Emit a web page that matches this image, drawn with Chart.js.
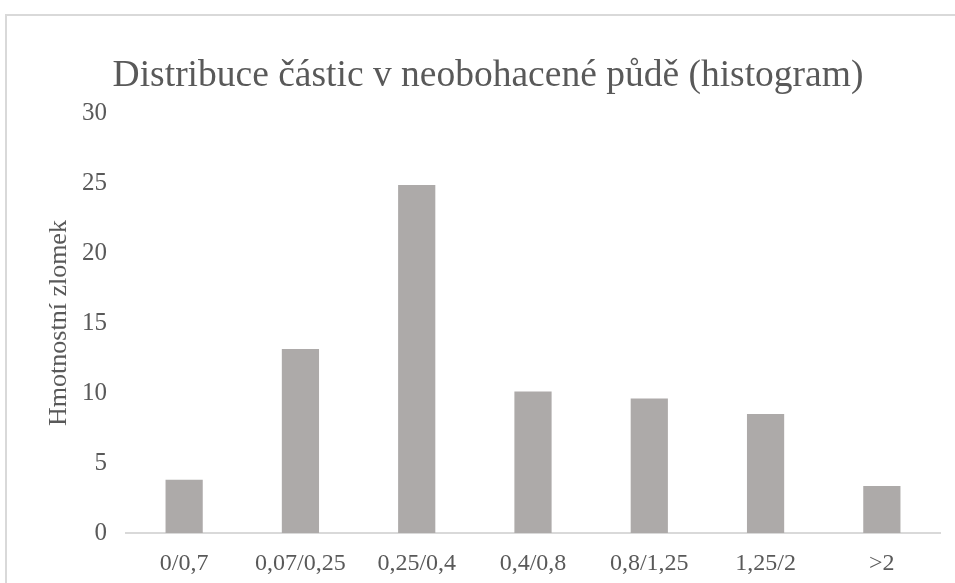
<!DOCTYPE html>
<html>
<head>
  <meta charset="utf-8">
  <title>Distribuce částic</title>
  <script src="https://cdn.jsdelivr.net/npm/chart.js@4.4.1/dist/chart.umd.min.js"></script>
  <style>
    html, body { margin: 0; padding: 0; background: #fff; }
    #frame {
      position: absolute; left: 5px; top: 14px; width: 960px; height: 600px;
      border-top: 2px solid #d9d9d9; border-left: 2px solid #d9d9d9;
    }
    #wrap { position: absolute; left: 0; top: 0; width: 955px; height: 583px; }
  </style>
</head>
<body>
<div id="frame"></div>
<div id="wrap"><canvas id="chart"></canvas></div>

<script>
// Data
const categories = ['0/0,7', '0,07/0,25', '0,25/0,4', '0,4/0,8', '0,8/1,25', '1,25/2', '>2'];
const massFraction = [3.8, 13.15, 24.85, 10.1, 9.6, 8.5, 3.35];
const yTicks = [0, 5, 10, 15, 20, 25, 30];

const serif = '"Liberation Serif", "Times New Roman", serif';
const textColor = '#595959';

new Chart(document.getElementById('chart'), {
  type: 'bar',
  data: {
    labels: categories,
    datasets: [{
      label: 'Hmotnostní zlomek',
      data: massFraction,
      backgroundColor: '#adaaa9',
      borderWidth: 0,
      barPercentage: 0.32,
      categoryPercentage: 1
    }]
  },
  options: {
    responsive: true,
    maintainAspectRatio: false,
    animation: false,
    layout: { padding: { left: 36, right: 15, top: 0, bottom: 0 } },
    plugins: {
      legend: { display: false },
      tooltip: { enabled: false },
      title: {
        display: true,
        text: 'Distribuce částic v neobohacené půdě (histogram)',
        color: textColor,
        font: { family: serif, size: 37.5, weight: 'normal' },
        padding: { top: 54, bottom: 14 }
      }
    },
    scales: {
      x: {
        grid: { display: false, drawTicks: false },
        border: { display: true, color: '#d9d9d9', width: 2 },
        ticks: {
          color: textColor,
          font: { family: serif, size: 24 },
          padding: 16,
          maxRotation: 0,
          autoSkip: false
        },
        afterFit: s => { s.height = 50; }
      },
      y: {
        min: 0,
        max: yTicks[yTicks.length - 1],
        afterBuildTicks: s => { s.ticks = yTicks.map(v => ({ value: v })); },
        grid: { display: false, drawTicks: false },
        border: { display: false },
        ticks: {
          color: textColor,
          font: { family: serif, size: 25 },
          padding: 19
        },
        title: {
          display: true,
          text: 'Hmotnostní zlomek',
          color: textColor,
          font: { family: serif, size: 26 },
          padding: { top: 8, bottom: 0 }
        },
        afterFit: s => { s.width = 90; }
      }
    }
  }
});
</script>
</body>
</html>
